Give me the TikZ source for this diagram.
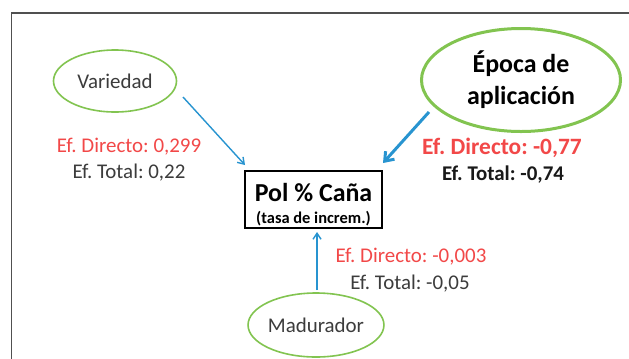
\documentclass[tikz,border=0pt]{standalone}
\usepackage{fontspec}
\setmainfont{Carlito}
\usetikzlibrary{shapes.geometric,arrows.meta}
\definecolor{ellgreen}{RGB}{130,196,80}
\definecolor{arrblue}{RGB}{40,148,208}
\definecolor{efred}{RGB}{242,72,72}
\definecolor{txtgray}{RGB}{60,60,60}
\definecolor{framegray}{RGB}{80,80,80}
\tikzset{
  factor/.style={ellipse, draw=ellgreen, line width=1.6bp, inner sep=0pt, text=txtgray, font=\fontsize{21}{24}\selectfont},
  bigfactor/.style={ellipse, draw=ellgreen, line width=3bp, inner sep=0pt, text=black, align=center, font=\bfseries\fontsize{26}{32}\selectfont},
  target/.style={draw=black, line width=1.8bp, inner sep=0pt, minimum width=137bp, minimum height=57bp},
  arr/.style={draw=arrblue, line width=1.4bp, -{Straight Barb[length=6bp,width=8bp]}},
  bigarr/.style={draw=arrblue, line width=3bp, -{Straight Barb[length=8bp,width=12bp]}},
  dirlbl/.style={text=efred, font=\fontsize{21}{24}\selectfont},
  totlbl/.style={text=txtgray, font=\fontsize{21}{24}\selectfont},
  bdirlbl/.style={text=efred, font=\bfseries\fontsize{23.5}{27}\selectfont},
  btotlbl/.style={text=black!90, font=\bfseries\fontsize{21}{24}\selectfont},
}
\begin{document}
\frenchspacing
\begin{tikzpicture}[x=1bp,y=-1bp]
\useasboundingbox (0,0) rectangle (629,358);
\clip (0,0) rectangle (629,358);
\fill[white] (0,0) rectangle (629,358);
\draw[framegray, line width=1.5bp] (11.5,360) -- (11.5,13) -- (632,13);

\node[factor, minimum width=123bp, minimum height=62bp] (var) at (115,81) {Variedad};
\node[bigfactor, minimum width=199bp, minimum height=103bp] (epo) at (521,80) {Época de\\aplicación};
\node[factor, minimum width=129bp, minimum height=64bp] (mad) at (316,325) {Madurador};

\node[target] (pol) at (313.5,199.5) {};
\node[font=\bfseries\fontsize{26}{30}\selectfont, text=black] (poltxt) at (313.5,193) {Pol \% Caña};
\node[font=\bfseries\fontsize{16.5}{19}\selectfont, text=black] (polsub) at (313.5,219) {(tasa de increm.)};

\coordinate (v1) at (183,97);
\coordinate (v2) at (245,165);
\coordinate (e1) at (429,112);
\coordinate (e2) at (383,163);
\coordinate (m1) at (317,290);
\coordinate (m2) at (317,232);
\draw[arr] (v1) -- (v2);
\draw[bigarr] (e1) -- (e2);
\draw[arr] (m1) -- (m2);

\node[dirlbl] (vd) at (129,147) {Ef. Directo: 0,299};
\node[totlbl] (vt) at (129,173) {Ef. Total: 0,22};
\node[bdirlbl] (ed) at (502,148) {Ef. Directo: -0,77};
\node[btotlbl] (et) at (503,175) {Ef. Total: -0,74};
\node[dirlbl] (md) at (411,257) {Ef. Directo: -0,003};
\node[totlbl] (mt) at (410,284) {Ef. Total: -0,05};
\end{tikzpicture}
\end{document}
